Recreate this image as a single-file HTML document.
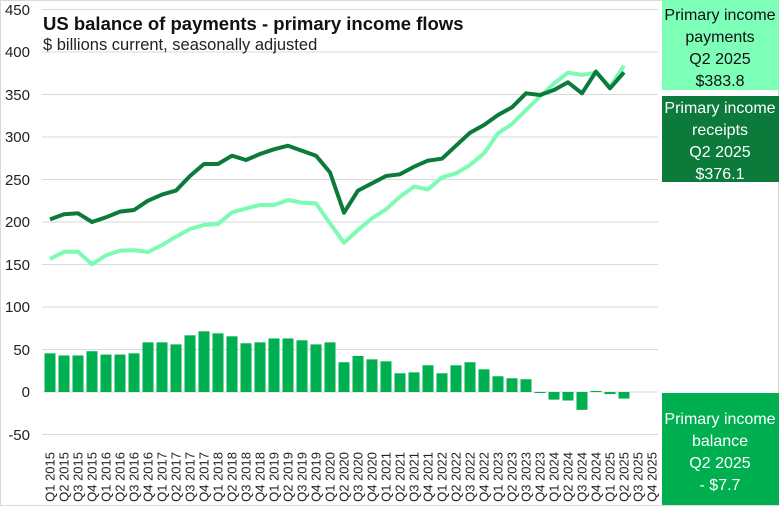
<!DOCTYPE html>
<html><head><meta charset="utf-8"><style>
html,body{margin:0;padding:0;background:#fff;}
svg{display:block;font-family:"Liberation Sans",sans-serif;}
</style></head><body>
<svg width="779" height="512" viewBox="0 0 779 512" xmlns="http://www.w3.org/2000/svg">
<rect x="0.5" y="0.5" width="778" height="505" fill="#fff" stroke="#d9d9d9"/>
<g stroke="#d9d9d9" stroke-width="1">
<line x1="42" x2="658" y1="9.5" y2="9.5"/>
<line x1="42" x2="658" y1="52" y2="52"/>
<line x1="42" x2="658" y1="94.5" y2="94.5"/>
<line x1="42" x2="658" y1="137" y2="137"/>
<line x1="42" x2="658" y1="179.5" y2="179.5"/>
<line x1="42" x2="658" y1="222" y2="222"/>
<line x1="42" x2="658" y1="264.5" y2="264.5"/>
<line x1="42" x2="658" y1="307" y2="307"/>
<line x1="42" x2="658" y1="349.5" y2="349.5"/>
<line x1="42" x2="658" y1="392" y2="392"/>
<line x1="42" x2="658" y1="434.5" y2="434.5"/>
</g>
<g font-size="15" fill="#222" text-anchor="end">
<text x="30" y="15">450</text><text x="30" y="57">400</text><text x="30" y="100">350</text>
<text x="30" y="142">300</text><text x="30" y="185">250</text><text x="30" y="227">200</text>
<text x="30" y="270">150</text><text x="30" y="312">100</text><text x="30" y="355">50</text>
<text x="30" y="397">0</text><text x="30" y="440">-50</text>
</g>
<text x="43" y="30" font-size="18.5" font-weight="bold" fill="#111">US balance of payments - primary income flows</text>
<text x="43" y="50" font-size="16.5" fill="#222">$ billions current, seasonally adjusted</text>
<g fill="#00b050" id="bars"></g>
<polyline id="pay" fill="none" stroke="#7dfbb4" stroke-width="4" stroke-linejoin="round"/>
<polyline id="rec" fill="none" stroke="#0b7a3b" stroke-width="4" stroke-linejoin="round"/>
<g id="xl" font-size="13" fill="#222"></g>
<rect x="662" y="0" width="117" height="90" fill="#7dffb8"/>
<rect x="662" y="96" width="117" height="86" fill="#0b7a3b"/>
<rect x="662" y="393" width="117" height="112" fill="#00b050"/>
<g font-size="16" text-anchor="middle">
<g fill="#111"><text x="720" y="20">Primary income</text><text x="720" y="42">payments</text><text x="720" y="64">Q2 2025</text><text x="720" y="86">$383.8</text></g>
<g fill="#fff"><text x="720" y="113">Primary income</text><text x="720" y="135">receipts</text><text x="720" y="157">Q2 2025</text><text x="720" y="179">$376.1</text></g>
<g fill="#fff"><text x="720" y="424">Primary income</text><text x="720" y="446">balance</text><text x="720" y="468">Q2 2025</text><text x="720" y="490">- $7.7</text></g>
</g>
<script>
var bal=[45.5,43,43,48,44,44,45.5,58.4,58.4,56,66.7,71.4,69,65.5,57.3,58.4,63,63,60.8,56,58.4,35,42.4,38.4,36.1,22,23.1,31.4,22,31.4,35,26.7,18.5,16.1,15,-0.6,-9,-10,-21,1.2,-2.5,-7.7];
var rec=[203.1,209,210.2,200,205.5,212.2,214.1,225.1,232.2,236.9,254.1,268.2,268.2,278,272.9,280,285.5,289.8,283.9,278,258.4,211,236.9,245.5,254.1,256.1,265.1,272.2,274.5,289.8,305.1,314.1,325.9,334.9,351.4,349.4,355.3,364.3,351.4,376.9,357.3,376.1];
var pay=[156.5,165,165,150.2,160.8,166.3,167,164.7,172.9,182.7,191.8,196.5,197.6,211.4,216,220,220,225.9,222.7,221.9,198.4,175.7,190.6,204.3,214.9,229.8,241.6,238.4,252.5,257.3,267.1,280.8,304.3,315.3,331.8,347.5,363.1,375.7,373,375.7,359.2,383.8];
var NS="http://www.w3.org/2000/svg";
function Y(v){return 392-v*0.85;}
var g=document.getElementById("bars");
bal.forEach(function(v,i){var r=document.createElementNS(NS,"rect");var x=50+14*i-5.5;var y=Math.min(Y(v),392);var h=Math.max(Math.abs(v*0.85),1);r.setAttribute("x",x);r.setAttribute("y",y);r.setAttribute("width",11);r.setAttribute("height",h);g.appendChild(r);});
function pts(a){return a.map(function(v,i){return (50+14*i)+","+Y(v).toFixed(1);}).join(" ");}
document.getElementById("rec").setAttribute("points",pts(rec));
document.getElementById("pay").setAttribute("points",pts(pay));
var xl=document.getElementById("xl");
for(var i=0;i<44;i++){var yr=2015+Math.floor(i/4),q=i%4+1;var t=document.createElementNS(NS,"text");var x=50+14*i+4.5;t.setAttribute("transform","translate("+x+",452) rotate(-90)");t.setAttribute("text-anchor","end");t.textContent="Q"+q+" "+yr;xl.appendChild(t);}
</script>
</svg>
</body></html>
